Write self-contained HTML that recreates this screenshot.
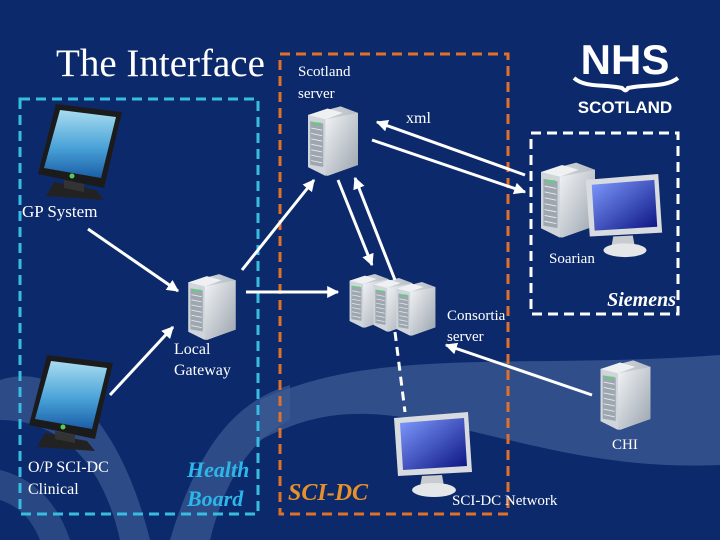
<!DOCTYPE html>
<html><head><meta charset="utf-8"><style>
html,body{margin:0;padding:0;background:#0c2a6b;}
svg{display:block}
text{font-family:"Liberation Serif",serif;fill:#fff}
</style></head><body>
<svg width="720" height="540" viewBox="0 0 720 540" xmlns="http://www.w3.org/2000/svg">
<defs>
<linearGradient id="srvF" x1="0" y1="0" x2="1" y2="1"><stop offset="0" stop-color="#f2f4f6"/><stop offset="1" stop-color="#9aa3ad"/></linearGradient>
<linearGradient id="srvS" x1="0" y1="0" x2="1" y2="0"><stop offset="0" stop-color="#dfe3e7"/><stop offset="1" stop-color="#b5bcc4"/></linearGradient>
<linearGradient id="scr" x1="0" y1="0" x2="1" y2="1"><stop offset="0" stop-color="#7f9bff"/><stop offset="1" stop-color="#0a1280"/></linearGradient>
<linearGradient id="scr2" x1="0" y1="0" x2="0" y2="1"><stop offset="0" stop-color="#a8dcf0"/><stop offset="0.55" stop-color="#4aa3d8"/><stop offset="1" stop-color="#1a5ea8"/></linearGradient>
<symbol id="srv" viewBox="0 0 50 70">
<polygon points="2,12 32,4 48,10 48,58 20,68 2,60" fill="url(#srvS)"/>
<polygon points="2,12 20,6 34,10 18,16" fill="#eef0f2"/>
<polygon points="2,12 18,16 18,68 2,60" fill="#cfd5db"/>
<polygon points="18,16 48,10 48,58 18,68" fill="url(#srvF)"/>
<rect x="4" y="18" width="12" height="40" fill="#9ea7b0" transform="skewY(10) translate(0,-1)"/>
<g stroke="#e8ecef" stroke-width="0.8">
<line x1="5" y1="24" x2="15" y2="26"/><line x1="5" y1="29" x2="15" y2="31"/><line x1="5" y1="34" x2="15" y2="36"/><line x1="5" y1="39" x2="15" y2="41"/><line x1="5" y1="44" x2="15" y2="46"/><line x1="5" y1="49" x2="15" y2="51"/><line x1="5" y1="54" x2="15" y2="56"/>
</g>
<rect x="6" y="19" width="8" height="2" fill="#5fcf7a"/>
</symbol>
<symbol id="mon1" viewBox="0 0 90 110">
<polygon points="22,6 88,14 70,90 4,76" fill="#1b1b1b"/>
<polygon points="26,12 82,19 67,80 10,70" fill="url(#scr2)"/>
<polygon points="20,84 62,92 70,102 12,98" fill="#222"/>
<polygon points="30,82 50,86 50,94 30,90" fill="#333"/>
<circle cx="38" cy="78" r="2.5" fill="#5c5"/>
</symbol>
<symbol id="mon2" viewBox="0 0 90 90">
<polygon points="6,8 80,2 84,62 10,66" fill="#d8dce0"/>
<polygon points="12,13 76,8 79,56 15,60" fill="url(#scr)"/>
<polygon points="34,66 54,65 56,76 32,77" fill="#c8ccd0"/>
<ellipse cx="46" cy="80" rx="22" ry="7" fill="#e4e6e8"/>
</symbol>
<marker id="ah" viewBox="0 0 10 10" refX="9" refY="5" markerWidth="4" markerHeight="4" orient="auto"><path d="M0,0 L10,5 L0,10 z" fill="#fff"/></marker>
</defs>
<rect width="720" height="540" fill="#0c2a6b"/>
<!-- wave band -->
<path d="M260,400 C380,345 520,370 720,355 L720,465 C600,470 520,440 420,420 C340,405 300,420 260,440 Z" fill="#3c5b93" opacity="0.75"/>
<path d="M0,380 C60,360 120,420 150,540 L120,540 C100,450 50,420 0,420 Z" fill="#3c5b93" opacity="0.7"/>
<path d="M170,540 C200,440 240,400 290,385 L290,420 C250,440 225,480 210,540 Z" fill="#3c5b93" opacity="0.7"/>
<path d="M0,470 C40,480 60,510 70,540 L40,540 C30,515 15,505 0,500 Z" fill="#3c5b93" opacity="0.6"/>

<text x="56" y="76" font-size="39">The Interface</text>

<!-- NHS logo -->
<text x="625" y="74" font-size="42" font-weight="bold" text-anchor="middle" style="font-family:'Liberation Sans',sans-serif">NHS</text>
<path d="M574,78 C585,88 605,84 622,88 C624,90 626,92 628,88 C645,84 665,88 678,78" stroke="#fff" stroke-width="4" fill="none"/>
<text x="625" y="113" font-size="17" font-weight="bold" text-anchor="middle" style="font-family:'Liberation Sans',sans-serif">SCOTLAND</text>

<!-- boxes -->
<rect x="20" y="99" width="238" height="415" fill="none" stroke="#36bde0" stroke-width="3" stroke-dasharray="10,6"/>
<rect x="280" y="54" width="228" height="460" fill="none" stroke="#e0702a" stroke-width="3" stroke-dasharray="10,6"/>
<rect x="531" y="133" width="147" height="181" fill="none" stroke="#fff" stroke-width="3" stroke-dasharray="10,6"/>

<!-- icons -->
<use href="#srv" x="305" y="102" width="56" height="76"/>
<use href="#srv" x="538" y="158" width="60" height="82"/>
<use href="#mon2" x="580" y="172" width="88" height="88"/>
<use href="#mon1" x="34" y="98" width="90" height="110"/>
<use href="#srv" x="186" y="270" width="52" height="72"/>
<use href="#srv" x="348" y="270" width="42" height="60"/>
<use href="#srv" x="372" y="274" width="42" height="60"/>
<use href="#srv" x="395" y="278" width="42" height="60"/>
<use href="#mon1" x="25" y="348" width="90" height="112"/>
<use href="#mon2" x="388" y="410" width="90" height="90"/>
<use href="#srv" x="598" y="356" width="55" height="76"/>

<!-- arrows -->
<g stroke="#fff" stroke-width="3" fill="none" marker-end="url(#ah)">
<line x1="88" y1="229" x2="178" y2="291"/>
<line x1="110" y1="395" x2="173" y2="327"/>
<line x1="246" y1="292" x2="338" y2="292"/>
<line x1="242" y1="270" x2="314" y2="180"/>
<line x1="338" y1="180" x2="372" y2="265"/>
<line x1="395" y1="280" x2="355" y2="178"/>
<line x1="525" y1="175" x2="377" y2="122"/>
<line x1="372" y1="140" x2="525" y2="192"/>
<line x1="592" y1="395" x2="446" y2="345"/>
</g>
<line x1="395" y1="332" x2="405" y2="412" stroke="#fff" stroke-width="3" stroke-dasharray="9,6"/>

<!-- labels -->
<text x="298" y="76" font-size="15">Scotland</text>
<text x="298" y="98" font-size="15">server</text>
<text x="406" y="123" font-size="16">xml</text>
<text x="22" y="217" font-size="17">GP System</text>
<text x="549" y="263" font-size="15">Soarian</text>
<text x="676" y="306" font-size="20" font-style="italic" font-weight="bold" text-anchor="end">Siemens</text>
<text x="447" y="320" font-size="15">Consortia</text>
<text x="447" y="341" font-size="15">server</text>
<text x="174" y="354" font-size="16">Local</text>
<text x="174" y="375" font-size="16">Gateway</text>
<text x="612" y="449" font-size="15">CHI</text>
<text x="28" y="472" font-size="16">O/P SCI-DC</text>
<text x="28" y="494" font-size="16">Clinical</text>
<text x="187" y="477" font-size="22" font-style="italic" font-weight="bold" style="fill:#2cb7ea">Health</text>
<text x="187" y="506" font-size="22" font-style="italic" font-weight="bold" style="fill:#2cb7ea">Board</text>
<text x="288" y="500" font-size="24" font-style="italic" font-weight="bold" style="fill:#e8902a">SCI-DC</text>
<text x="452" y="505" font-size="15">SCI-DC Network</text>
</svg>
</body></html>
